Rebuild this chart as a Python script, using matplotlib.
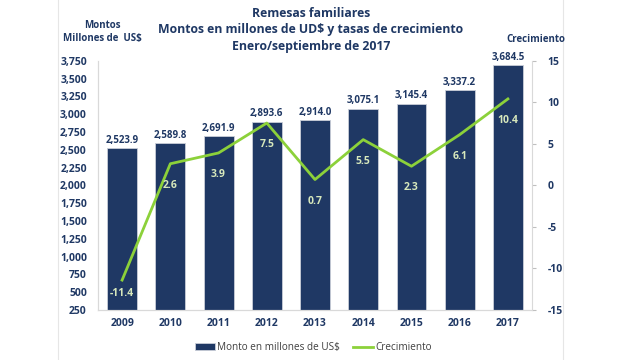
import matplotlib.pyplot as plt
from matplotlib.lines import Line2D
from matplotlib.ticker import FuncFormatter

plt.rcParams['font.family'] = ['Open Sans', 'DejaVu Sans']
plt.rcParams['axes.unicode_minus'] = False

years = ['2009', '2010', '2011', '2012', '2013', '2014', '2015', '2016', '2017']
montos = [2523.9, 2589.8, 2691.9, 2893.6, 2914.0, 3075.1, 3145.4, 3337.2, 3684.5]
crecimiento = [-11.4, 2.6, 3.9, 7.5, 0.7, 5.5, 2.3, 6.1, 10.4]

navy = '#1F3864'
green = '#8CD13A'
pale = '#D7E8BC'

fig = plt.figure(figsize=(6.27, 3.6), dpi=100)
ax = fig.add_axes([0.1563, 0.1389, 0.6922, 0.6925])
ax2 = ax.twinx()

x = list(range(len(years)))
bars = ax.bar(x, montos, width=0.62, color=navy, edgecolor='#C9CED8', linewidth=0.6,
              label='Monto en millones de US$', zorder=2)
for xi, v in zip(x, montos):
    ax.text(xi, v + 35, f'{v:,.1f}', ha='center', va='bottom', fontsize=7,
            fontweight='bold', color=navy)

ax.set_ylim(250, 3750)
ax.set_yticks(range(250, 3751, 250))
ax.yaxis.set_major_formatter(FuncFormatter(lambda v, p: f'{int(v):,}'))
ax.set_xlim(-0.5, 8.5)
ax.set_xticks(x)
ax.set_xticklabels(years)

ln, = ax2.plot(x, crecimiento, color=green, linewidth=2, label='Crecimiento', zorder=3)
for xi, v in zip(x, crecimiento):
    ax2.text(xi, max(v - 2.6, -13.0), f'{v:.1f}', ha='center', va='center', fontsize=7.5,
             fontweight='bold', color=pale)
ax2.set_ylim(-15, 15)
ax2.set_yticks(range(-15, 16, 5))

for a in (ax, ax2):
    for s in a.spines.values():
        s.set_color('#D9D9D9')
    a.spines['top'].set_visible(False)
    for lab in a.get_yticklabels() + a.get_xticklabels():
        lab.set_fontweight('bold')
        lab.set_color(navy)
        lab.set_fontsize(7.5)

ax.spines['right'].set_visible(False)
ax.tick_params(axis='y', length=0, pad=8)
ax.tick_params(axis='x', length=0, pad=6)
ax2.tick_params(axis='y', length=3, color='#BFBFBF', pad=8)

fig.text(0.496, 0.962, 'Remesas familiares', ha='center', va='center', fontsize=8.8,
         fontweight='bold', color=navy)
fig.text(0.496, 0.918, 'Montos en millones de UD$ y tasas de crecimiento', ha='center',
         va='center', fontsize=8.8, fontweight='bold', color=navy)
fig.text(0.496, 0.87, 'Enero/septiembre de 2017', ha='center', va='center', fontsize=8.8,
         fontweight='bold', color=navy)
fig.text(0.1635, 0.93, 'Montos', ha='center', va='center', fontsize=7,
         fontweight='bold', color=navy)
fig.text(0.1635, 0.892, 'Millones de  US$', ha='center', va='center', fontsize=7,
         fontweight='bold', color=navy)
fig.text(0.854, 0.89, 'Crecimiento', ha='center', va='center', fontsize=7,
         fontweight='bold', color=navy)

# faint panel edges
fig.add_artist(Line2D([0.093, 0.093], [0, 1], color='#E6E6E6', linewidth=0.8))
fig.add_artist(Line2D([0.898, 0.898], [0, 1], color='#E6E6E6', linewidth=0.8))

leg = fig.legend(handles=[bars, ln], loc='center', bbox_to_anchor=(0.50, 0.035), ncol=2,
                 frameon=False, fontsize=7.2, handlelength=2.0, handleheight=0.6,
                 columnspacing=1.3, handletextpad=0.2)
for t in leg.get_texts():
    t.set_color('#404040')

fig.savefig('out.png', dpi=100)
